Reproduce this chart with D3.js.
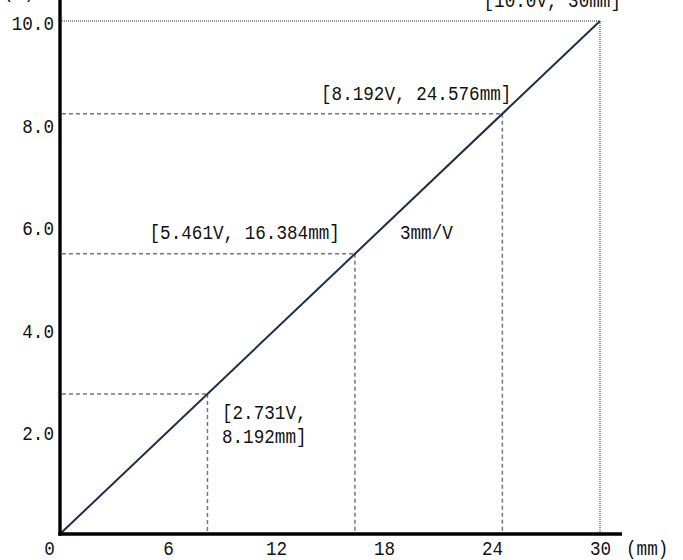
<!DOCTYPE html>
<html>
<head>
<meta charset="utf-8">
<script src="https://cdn.jsdelivr.net/npm/d3@7"></script>
<style>
  html, body { margin: 0; padding: 0; background: #fff; }
  svg { display: block; }
  text { font-family: "Liberation Mono", "DejaVu Sans Mono", monospace; fill: #111; }
</style>
</head>
<body>
<svg id="chart" width="683" height="560"></svg>
<script>
// Output characteristic: 3 mm of stroke per volt
const mmRange = [0, 30];
const voltRange = [0, 10];
const xTicks = [0, 6, 12, 18, 24, 30];
const yTicks = [2, 4, 6, 8, 10];
const yTickLabels = ["2.0", "4.0", "6.0", "8.0", "10.0"];
const lineMm = [0, 30];
const lineVolt = [0, 10];

// Marked operating points
const pointMm = [8.192, 16.384, 24.576, 30];
const pointVolt = [2.731, 5.461, 8.192, 10.0];
const pointLabels = [
  ["[2.731V,", "8.192mm]"],
  ["[5.461V, 16.384mm]"],
  ["[8.192V, 24.576mm]"],
  ["[10.0V, 30mm]"]
];
const slopeLabel = "3mm/V";

const svg = d3.select("#chart");
const x = d3.scaleLinear().domain(mmRange).range([60, 600]);
const y = d3.scaleLinear().domain(voltRange).range([534, 21]);

// Narrow monospaced lettering
const fontSize = 21;
const squeeze = 0.84;

function label(px, py, str, anchor) {
  return svg.append("text")
    .attr("transform", `translate(${px},${py}) scale(${squeeze},1)`)
    .attr("font-size", fontSize)
    .attr("text-anchor", anchor || "start")
    .text(str);
}

// Guide lines from each point to the axes
const guides = svg.append("g");
pointMm.forEach((m, i) => {
  const last = i === pointMm.length - 1;
  const style = last
    ? { stroke: "#333", dash: "1,1", w: 1 }
    : { stroke: "#777", dash: "4,3", w: 1.5 };
  guides.append("line")
    .attr("x1", x(0) + 2).attr("x2", x(m))
    .attr("y1", y(pointVolt[i])).attr("y2", y(pointVolt[i]))
    .attr("stroke", style.stroke).attr("stroke-width", style.w)
    .attr("stroke-dasharray", style.dash);
  guides.append("line")
    .attr("x1", x(m)).attr("x2", x(m))
    .attr("y1", y(pointVolt[i])).attr("y2", y(0) - 2)
    .attr("stroke", style.stroke).attr("stroke-width", style.w)
    .attr("stroke-dasharray", style.dash);
});

// Characteristic line
svg.append("path")
  .datum(lineMm.map((m, i) => [m, lineVolt[i]]))
  .attr("d", d3.line().x(d => x(d[0])).y(d => y(d[1])))
  .attr("fill", "none")
  .attr("stroke", "#1b2f4d")
  .attr("stroke-width", 2);

// Axes
const xAxis = d3.axisBottom(x).tickValues(xTicks).tickSize(0).tickPadding(6)
  .tickFormat(d => d);
const gx = svg.append("g").attr("transform", `translate(0,${y(0)})`).call(xAxis);
gx.select(".domain").attr("d", `M${x(0) - 1.7},0H622`).attr("stroke", "#000").attr("stroke-width", 3.4);
gx.selectAll(".tick text")
  .attr("font-size", fontSize).attr("font-family", "Liberation Mono").attr("fill", "#111")
  .attr("transform", `scale(${squeeze},1)`);
gx.selectAll(".tick").filter(d => d === 0).select("text").attr("x", -13);

const yAxis = d3.axisLeft(y).tickValues(yTicks).tickSize(0).tickPadding(6)
  .tickFormat((d, i) => yTickLabels[i]);
const gy = svg.append("g").attr("transform", `translate(${x(0)},0)`).call(yAxis);
gy.select(".domain").attr("d", `M0,${y(0) + 1.7}V0`).attr("stroke", "#000").attr("stroke-width", 3.4);
gy.selectAll(".tick text")
  .attr("font-size", fontSize).attr("font-family", "Liberation Mono").attr("fill", "#111")
  .attr("x", -6 / squeeze).attr("dy", "0.4em")
  .attr("transform", `scale(${squeeze},1)`);

// Axis units
label(626, 555, "(mm)");
label(3, -2, "(V)");

// Point annotations, placed relative to each point
const labelOffset = [
  { dx: 14.5, dy: 25, lh: 24, anchor: "start" },
  { dx: -15, dy: -15, lh: 0, anchor: "end" },
  { dx: 9, dy: -14, lh: 0, anchor: "end" },
  { dx: 21, dy: -14, lh: 0, anchor: "end" }
];
pointLabels.forEach((lines, i) => {
  const o = labelOffset[i];
  lines.forEach((s, j) => {
    label(x(pointMm[i]) + o.dx, y(pointVolt[i]) + o.dy + j * o.lh, s, o.anchor);
  });
});

label(x(pointMm[1]) + 45, y(pointVolt[1]) - 15, slopeLabel);
</script>
</body>
</html>
